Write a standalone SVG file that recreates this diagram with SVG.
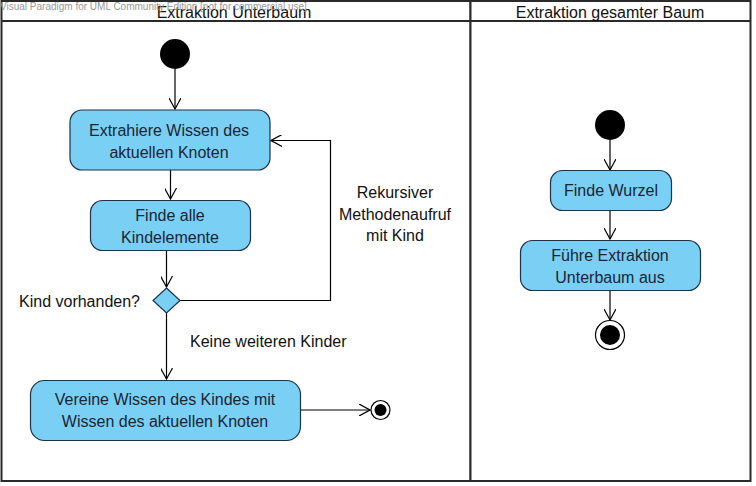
<svg xmlns="http://www.w3.org/2000/svg" width="756" height="486" viewBox="0 0 756 486">
<defs>
<style>
.lane{fill:#fff;stroke:#2a2a2a;stroke-width:2}
.act{fill:#7acff5;stroke:#1c3348;stroke-width:1.2}
.t{font-family:"Liberation Sans",Arial,sans-serif;font-size:16px;fill:#1a2533;text-anchor:middle}
.lbl{font-family:"Liberation Sans",Arial,sans-serif;font-size:16px;fill:#111}
.hd{font-family:"Liberation Sans",Arial,sans-serif;font-size:16px;fill:#111;text-anchor:middle}
.wm{font-family:"Liberation Sans",Arial,sans-serif;font-size:10px;fill:#9a9a9a}
.edge{fill:none;stroke:#000;stroke-width:1.2}
</style>
<marker id="arr" viewBox="0 0 12 12" refX="11" refY="6" markerWidth="12" markerHeight="12" markerUnits="userSpaceOnUse" orient="auto">
<path d="M0,0 L11,6 L0,12" fill="none" stroke="#000" stroke-width="1.2"/>
</marker>
</defs>
<rect width="756" height="486" fill="#fff"/>
<g id="lanes">
<rect class="lane" x="1.5" y="1" width="469" height="480"/>
<rect class="lane" x="470.5" y="1" width="280" height="480"/>
<line x1="1.5" y1="21" x2="750.5" y2="21" stroke="#2a2a2a" stroke-width="2"/>
<text class="hd" x="234" y="18">Extraktion Unterbaum</text>
<text class="hd" x="610" y="18">Extraktion gesamter Baum</text>
</g>
<text class="wm" x="0" y="10">Visual Paradigm for UML Community Edition [not for commercial use]</text>
<g id="connectors">
<line class="edge" x1="175" y1="69" x2="175" y2="109" marker-end="url(#arr)"/>
<line class="edge" x1="170.5" y1="170" x2="170.5" y2="199" marker-end="url(#arr)"/>
<line class="edge" x1="166.5" y1="250" x2="166.5" y2="287" marker-end="url(#arr)"/>
<polyline class="edge" points="180,300.5 330.5,300.5 330.5,140.5 271,140.5" marker-end="url(#arr)"/>
<line class="edge" x1="166.5" y1="313" x2="166.5" y2="379" marker-end="url(#arr)"/>
<line class="edge" x1="300" y1="410" x2="370" y2="410" marker-end="url(#arr)"/>
<line class="edge" x1="610" y1="140" x2="610" y2="170" marker-end="url(#arr)"/>
<line class="edge" x1="610" y1="210" x2="610" y2="239" marker-end="url(#arr)"/>
<line class="edge" x1="610" y1="290" x2="610" y2="320" marker-end="url(#arr)"/>
<text class="lbl" x="395" y="198" text-anchor="middle">Rekursiver</text>
<text class="lbl" x="395" y="220" text-anchor="middle">Methodenaufruf</text>
<text class="lbl" x="395" y="241" text-anchor="middle">mit Kind</text>
<text class="lbl" x="190" y="347">Keine weiteren Kinder</text>
</g>
<g id="start1"><circle cx="175" cy="54" r="15" fill="#000"/></g>
<g id="extrahiere">
<rect class="act" x="70" y="110" width="200" height="60" rx="12"/>
<text class="t" x="169" y="136">Extrahiere Wissen des</text>
<text class="t" x="169" y="158">aktuellen Knoten</text>
</g>
<g id="finde-alle">
<rect class="act" x="90.5" y="200.5" width="160" height="50" rx="12"/>
<text class="t" x="170" y="221">Finde alle</text>
<text class="t" x="170" y="243">Kindelemente</text>
</g>
<g id="decision">
<polygon class="act" points="166.5,288 180,300.5 166.5,313 153,300.5"/>
<text class="lbl" x="140" y="307" text-anchor="end">Kind vorhanden?</text>
</g>
<g id="vereine">
<rect class="act" x="30.5" y="380.5" width="270" height="60" rx="14"/>
<text class="t" x="165" y="405">Vereine Wissen des Kindes mit</text>
<text class="t" x="165" y="427">Wissen des aktuellen Knoten</text>
</g>
<g id="end1">
<circle cx="380.5" cy="410" r="9.5" fill="#fff" stroke="#000" stroke-width="1.2"/>
<circle cx="380.5" cy="410" r="6" fill="#000"/>
</g>
<g id="start2"><circle cx="610" cy="125" r="15" fill="#000"/></g>
<g id="finde-wurzel">
<rect class="act" x="550.5" y="170.5" width="121" height="40" rx="12"/>
<text class="t" x="611" y="196">Finde Wurzel</text>
</g>
<g id="fuehre">
<rect class="act" x="520.5" y="240.5" width="180" height="50" rx="12"/>
<text class="t" x="610" y="261">Führe Extraktion</text>
<text class="t" x="610" y="283">Unterbaum aus</text>
</g>
<g id="end2">
<circle cx="610" cy="335" r="14.5" fill="#fff" stroke="#000" stroke-width="1.2"/>
<circle cx="610" cy="335" r="10" fill="#000"/>
</g>
</svg>
